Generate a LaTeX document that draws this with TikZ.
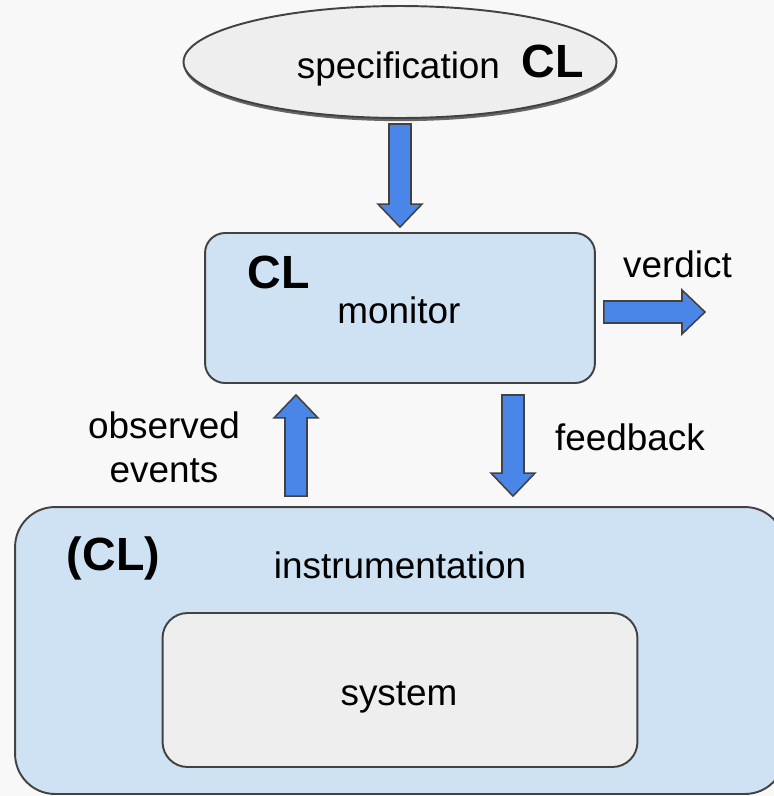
\documentclass[tikz,border=0pt]{standalone}
\usepackage{fontspec}
\setmainfont{Liberation Sans}
\usetikzlibrary{shapes.geometric,shadows,calc}

\definecolor{boxblue}{HTML}{CFE2F3}
\definecolor{boxgrey}{HTML}{EEEEEE}
\definecolor{arrowblue}{HTML}{4A86E8}
\definecolor{edgegrey}{HTML}{424242}
\definecolor{paper}{HTML}{F8F8F8}

% block arrow from #1 to #2 (both named coordinates)
\newcommand{\fatarrow}[2]{%
  \coordinate (fa-b) at ($(#2)!0.46cm!(#1)$);
  \draw[fatarrow] ($(#1)!0.22cm!90:(#2)$) -- ($(fa-b)!0.22cm!90:(#2)$)
    -- ($(fa-b)!0.44cm!90:(#2)$) -- (#2) -- ($(fa-b)!0.44cm!-90:(#2)$)
    -- ($(fa-b)!0.22cm!-90:(#2)$) -- ($(#1)!0.22cm!-90:(#2)$) -- cycle;}

\begin{document}
\begin{tikzpicture}[x=0.02cm, y=-0.02cm,
                fatarrow/.style={draw=edgegrey, line width=0.9pt, fill=arrowblue, line join=miter}]
                \useasboundingbox (0,0) rectangle (774,796);
                \fill[paper] (0,0) rectangle (774,796);
                \begin{scope}[every node/.style={draw=edgegrey, line width=1.1pt, inner sep=0}]
                        \node[ellipse, fill=boxgrey, minimum width=8.66cm, minimum height=2.24cm,
                              drop shadow={shadow xshift=0.3pt, shadow yshift=-1.8pt, fill=black!60, opacity=1}] (spec) at (400,62) {};
                        \node[rounded corners=0.4cm, fill=boxblue, minimum width=7.8cm, minimum height=3cm] (mon) at (400,308) {};
                        \node[rounded corners=0.8cm, fill=boxblue, minimum width=15.4cm, minimum height=5.74cm] (instr) at (400,650.5) {};
                        \node[rounded corners=0.5cm, fill=boxgrey, minimum width=9.5cm, minimum height=3.08cm] (sys) at (400,690) {};
                \end{scope}
                \begin{scope}[every node/.style={font=\fontsize{21}{25}\selectfont, anchor=base, inner sep=0},
                              cl/.style={font=\fontsize{26.5}{30}\selectfont\bfseries}]
                        \node (spectxt) at (398.5,78) {specification};
                        \node[cl] (speccl) at (553,77) {CL};
                        \node[cl] (moncl) at (278.5,288) {CL};
                        \node (montxt) at (399,323) {monitor};
                        \node (verdict) at (677.5,277) {verdict};
                        \node[align=center] (observed) at (164,482) {observed\\events};
                        \node (feedback) at (630,450) {feedback};
                        \node[cl] (instrcl) at (113.5,570) {(CL)};
                        \node (instrtxt) at (400,578) {instrumentation};
                        \node (systxt) at (399,705) {system};
                \end{scope}
                \coordinate (spec-out) at ($(spec.south)+(0,5)$);
                \coordinate (mon-in) at ($(mon.north)+(0,-5)$);
                \coordinate (mon-out) at ($(mon.east)+(8,4)$);
                \coordinate (vout) at (705,312);
                \coordinate (obs-from) at ($(instr.north)+(-104,-10)$);
                \coordinate (obs-to) at ($(mon.south)+(-104,11)$);
                \coordinate (fb-from) at ($(mon.south)+(113,11)$);
                \coordinate (fb-to) at ($(instr.north)+(113,-10)$);
                \fatarrow{spec-out}{mon-in}
                \fatarrow{mon-out}{vout}
                \fatarrow{obs-from}{obs-to}
                \fatarrow{fb-from}{fb-to}
        \end{tikzpicture}
\end{document}
